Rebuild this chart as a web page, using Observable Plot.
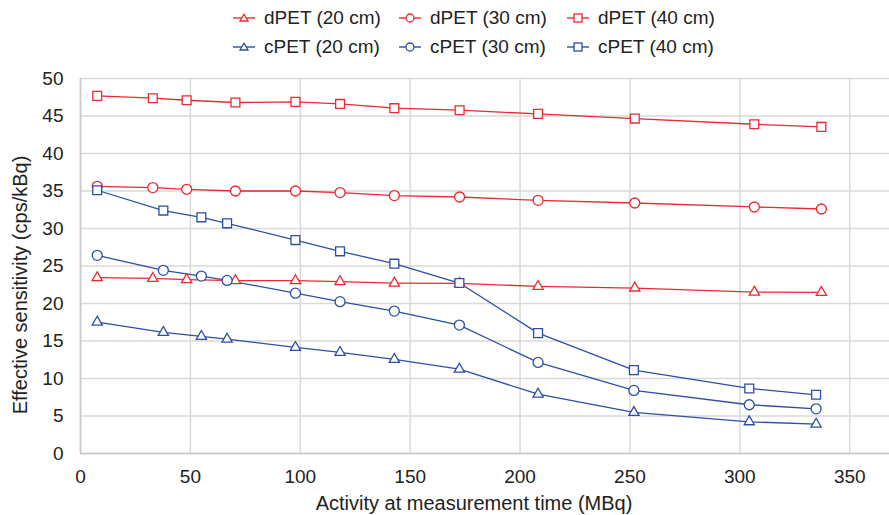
<!DOCTYPE html>
<html>
<head>
<meta charset="utf-8">
<script src="https://cdn.jsdelivr.net/npm/d3@7"></script>
<script src="https://cdn.jsdelivr.net/npm/@observablehq/plot@0.6"></script>
<style>
  body { margin: 0; background: #fff; font-family: "Liberation Sans", Arial, Helvetica, sans-serif; }
  #wrap { position: relative; width: 889px; height: 515px; }
  #legend { position: relative; width: 889px; height: 70px; }
  .item { position: absolute; display: flex; align-items: center; font-size: 19px; color: #222; white-space: nowrap; }
  .item svg { margin-right: 9px; }
</style>
</head>
<body>
<div id="wrap">
  <div id="legend"></div>
  <div id="chart"></div>
</div>
<script>
// Activity at measurement time (MBq)
const dpetX = [7.6, 32.9, 48.3, 70.5, 97.8, 118.1, 142.8, 172.5, 208.2, 252.2, 306.6, 337.1];
const cpetX = [7.6, 37.7, 55.0, 66.7, 97.8, 118.1, 142.8, 172.4, 208.2, 251.8, 304.3, 334.7];

// Effective sensitivity (cps/kBq)
const dpet20 = [23.45, 23.35, 23.18, 23.05, 23.05, 22.91, 22.72, 22.68, 22.28, 22.06, 21.52, 21.48];
const dpet30 = [35.62, 35.46, 35.23, 35.00, 35.00, 34.79, 34.39, 34.20, 33.76, 33.40, 32.87, 32.60];
const dpet40 = [47.68, 47.37, 47.10, 46.80, 46.88, 46.61, 46.04, 45.77, 45.28, 44.66, 43.90, 43.54];
const cpet20 = [17.52, 16.15, 15.61, 15.25, 14.14, 13.48, 12.54, 11.25, 7.91, 5.47, 4.23, 3.91];
const cpet30 = [26.42, 24.42, 23.66, 23.08, 21.38, 20.24, 18.99, 17.12, 12.14, 8.41, 6.50, 5.96];
const cpet40 = [35.10, 32.39, 31.49, 30.69, 28.46, 26.96, 25.31, 22.73, 16.05, 11.12, 8.67, 7.83];

const seriesNames = ["dPET (20 cm)", "dPET (30 cm)", "dPET (40 cm)", "cPET (20 cm)", "cPET (30 cm)", "cPET (40 cm)"];
const xTicks = [0, 50, 100, 150, 200, 250, 300, 350];
const yTicks = [0, 5, 10, 15, 20, 25, 30, 35, 40, 45, 50];

const RED = "#ea2a30";
const BLUE = "#2c4fa3";
const seriesColors = [RED, RED, RED, BLUE, BLUE, BLUE];
const seriesSymbols = ["triangle", "circle", "square", "triangle", "circle", "square"];

const seriesDefs = [
  [seriesNames[0], dpetX, dpet20],
  [seriesNames[1], dpetX, dpet30],
  [seriesNames[2], dpetX, dpet40],
  [seriesNames[3], cpetX, cpet20],
  [seriesNames[4], cpetX, cpet30],
  [seriesNames[5], cpetX, cpet40]
];
const rows = seriesDefs.flatMap(([name, xs, ys]) => xs.map((x, i) => ({series: name, x, y: ys[i]})));

// Legend
const legend = document.getElementById("legend");
const legendCols = [233, 399, 567];
const legendRowsY = [18, 47];
function markerSvg(sym, color) {
  let shape = "";
  if (sym === "triangle") shape = `<path d="M11,6.2 L15,13 L7,13 Z" fill="white" stroke="${color}" stroke-width="1.3"/>`;
  if (sym === "circle") shape = `<circle cx="11" cy="10" r="4" fill="white" stroke="${color}" stroke-width="1.3"/>`;
  if (sym === "square") shape = `<rect x="7" y="6" width="8" height="8" fill="white" stroke="${color}" stroke-width="1.3"/>`;
  return `<svg width="22" height="20"><line x1="0" x2="22" y1="10" y2="10" stroke="${color}" stroke-width="1.4"/>${shape}</svg>`;
}
seriesNames.forEach((name, i) => {
  const col = i % 3, row = Math.floor(i / 3);
  const div = document.createElement("div");
  div.className = "item";
  div.style.left = legendCols[col] + "px";
  div.style.top = (legendRowsY[row] - 11) + "px";
  div.style.height = "22px";
  div.innerHTML = markerSvg(seriesSymbols[i], seriesColors[i]) + `<span>${name}</span>`;
  legend.appendChild(div);
});

const chart = Plot.plot({
  width: 889,
  height: 445,
  marginTop: 8,
  marginBottom: 62,
  marginLeft: 80,
  marginRight: 0,
  style: {fontFamily: "'Liberation Sans', Arial, Helvetica, sans-serif", fontSize: "19px", color: "#222", background: "white", overflow: "visible"},
  x: {domain: [0, 368.1], ticks: xTicks},
  y: {domain: [0, 50], ticks: yTicks},
  color: {domain: seriesNames, range: seriesColors},
  symbol: {domain: seriesNames, range: seriesSymbols},
  marks: [
    Plot.gridX(xTicks, {stroke: "#d9d9d9", strokeOpacity: 1, strokeWidth: 1.5}),
    Plot.gridY(yTicks, {stroke: "#d9d9d9", strokeOpacity: 1, strokeWidth: 1.5}),
    Plot.ruleX([0], {stroke: "#c8c8c8", strokeWidth: 1.5}),
    Plot.ruleY([0], {stroke: "#c8c8c8", strokeWidth: 1.5}),
    Plot.axisX(xTicks, {tickSize: 0, tickPadding: 16, label: null, fontSize: 19, fill: "#222"}),
    Plot.axisY(yTicks, {tickSize: 0, tickPadding: 17, label: null, fontSize: 19, fill: "#222"}),
    Plot.line(rows, {x: "x", y: "y", z: "series", stroke: "series", strokeWidth: 1.3}),
    Plot.dot(rows.filter(d => d.series.includes("20")), {x: "x", y: "y", stroke: "series", symbol: "series", fill: "white", r: 3.8, strokeWidth: 1.3}),
    Plot.dot(rows.filter(d => !d.series.includes("20")), {x: "x", y: "y", stroke: "series", symbol: "series", fill: "white", r: 5, strokeWidth: 1.3}),
    Plot.text(["Activity at measurement time (MBq)"], {frameAnchor: "bottom", lineAnchor: "middle", dx: -11, dy: 50, fontSize: 20, fill: "#222"}),
    Plot.text(["Effective sensitivity (cps/kBq)"], {frameAnchor: "left", textAnchor: "middle", lineAnchor: "middle", dx: -60, dy: 19, rotate: -90, fontSize: 20, fill: "#222"})
  ]
});
document.getElementById("chart").appendChild(chart);
</script>
</body>
</html>
